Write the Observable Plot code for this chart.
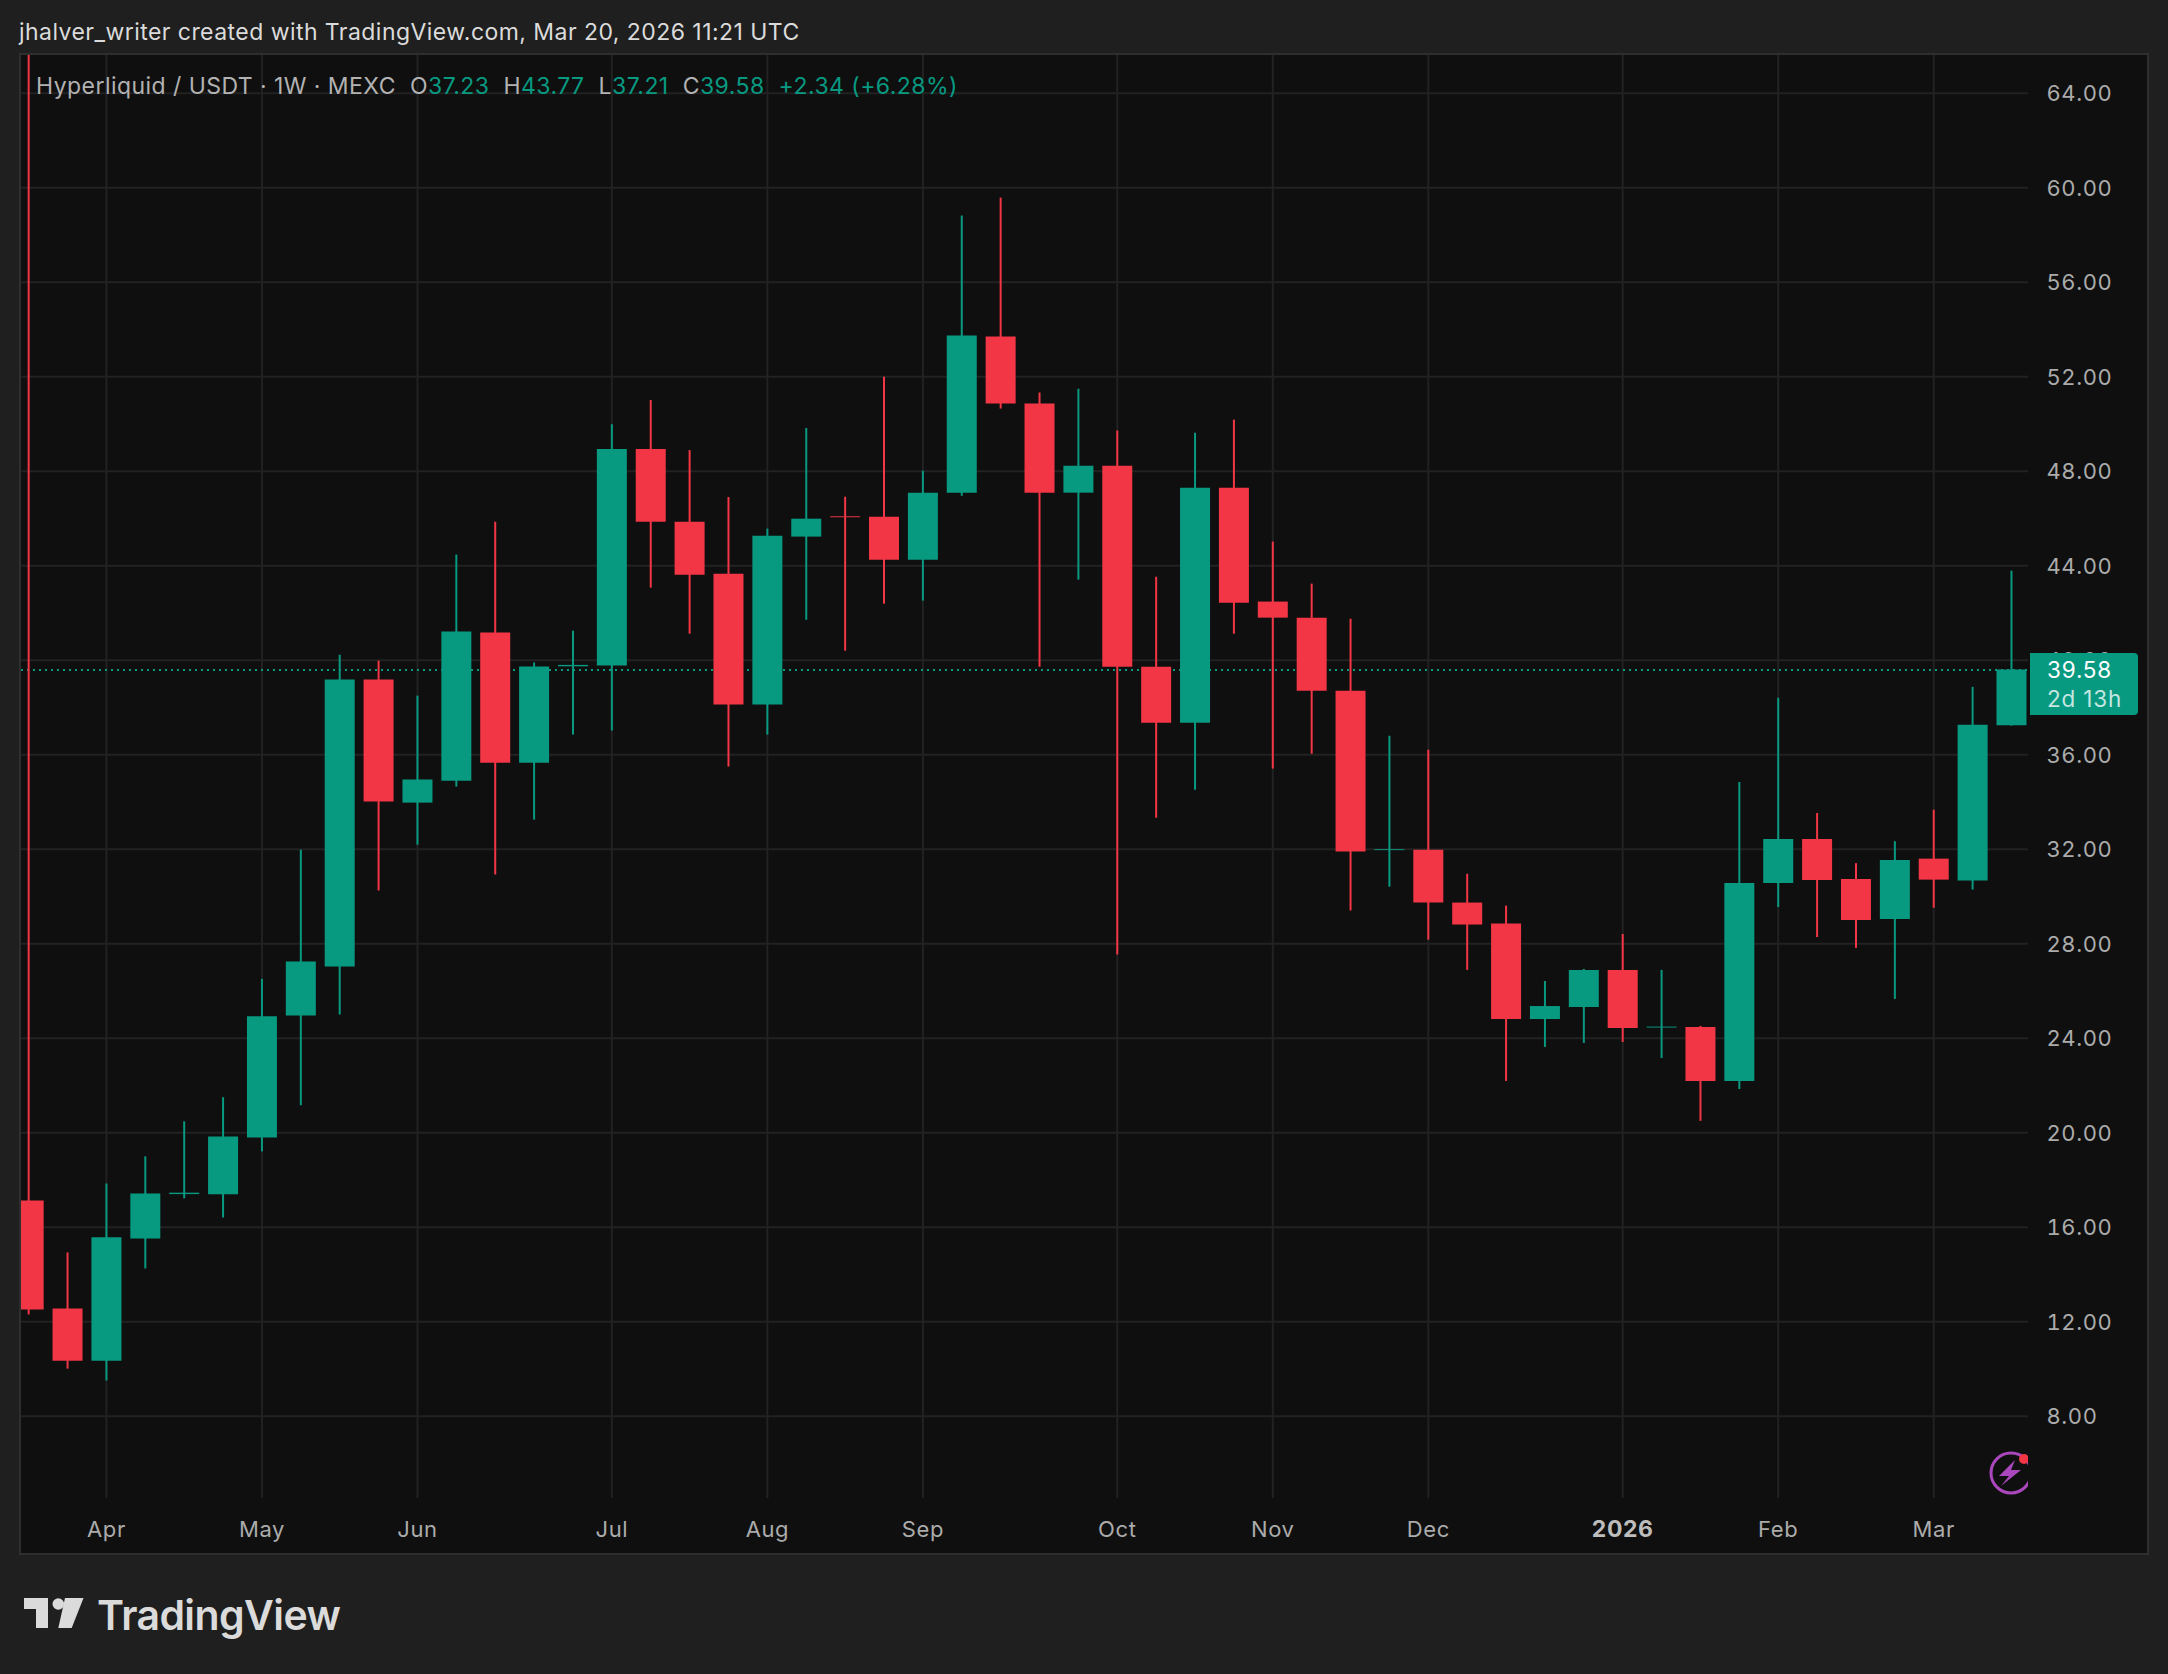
<!DOCTYPE html>
<html><head><meta charset="utf-8">
<script src="https://cdn.jsdelivr.net/npm/d3@7"></script>
<script src="https://cdn.jsdelivr.net/npm/@observablehq/plot@0.6"></script>
<style>
html,body{margin:0;padding:0;background:#1f1f1f;width:2168px;height:1674px;overflow:hidden;font-family:Inter,"Noto Sans",sans-serif;}
#title{position:absolute;left:19px;top:18px;font-size:23px;line-height:28px;letter-spacing:.45px;color:#dbdbdb;white-space:nowrap;}
#panel{position:absolute;left:19px;top:53px;width:2126px;height:1498px;background:#0f0f0f;border:2px solid #2e2e2e;}
#panel svg.plot{position:absolute;left:0;top:0;background:transparent;max-width:none;}
#legend{position:absolute;left:36px;top:72px;font-size:23px;line-height:28px;color:#b2b2b2;white-space:nowrap;letter-spacing:.45px;}
#legend b{font-weight:400;color:#089981;}
#legend span{margin-left:14px;}
#tag{position:absolute;left:2030px;width:108px;height:62px;background:#089981;border-radius:0 4px 4px 0;color:#fff;font-size:22.5px;line-height:29px;box-sizing:border-box;padding:2px 0 0 17px;letter-spacing:.8px;}
#tag div+div{color:#c4e6e0;}
#logo{position:absolute;left:24px;top:1595px;}
#logotext{position:absolute;left:97px;top:1591px;font-size:41px;line-height:48px;font-weight:600;color:#dbdbdb;letter-spacing:-.6px;white-space:nowrap;}
#bolt{position:absolute;left:1985px;top:1448px;}
</style></head><body>
<div id="title">jhalver_writer created with TradingView.com, Mar 20, 2026 11:21 UTC</div>
<div id="panel"></div>
<div id="legend">Hyperliquid / USDT · 1W · MEXC<span>O<b>37.23</b></span><span>H<b>43.77</b></span><span>L<b>37.21</b></span><span>C<b>39.58</b></span><span><b>+2.34 (+6.28%)</b></span></div>
<svg id="logo" width="62" height="34" viewBox="0 0 62 34"><path fill="#dbdbdb" d="M0 3H24V33H12V14H0Z"/><circle cx="34.3" cy="9" r="5.8" fill="#dbdbdb"/><path fill="#dbdbdb" d="M41 3H59.5L47.7 33H34.3Z"/></svg>
<div id="logotext">TradingView</div>
<svg id="bolt" width="43" height="50" viewBox="0 0 43 50"><circle cx="26" cy="25" r="20" fill="none" stroke="#ab47bc" stroke-width="3"/><path fill="#ab47bc" d="M30 12 L14 28 H24 L16 38 L36 22 H26 Z"/><circle cx="39" cy="11" r="5" fill="#f23645"/></svg>
<script>
const firstWeek = "2025-03-24";
const open = [17.11,12.54,10.33,15.50,17.38,17.37,19.78,24.94,27.01,39.16,33.95,34.88,41.15,35.64,39.72,39.75,48.92,45.84,43.64,38.10,45.21,46.07,46.05,44.23,47.07,53.68,50.84,47.07,48.21,39.70,37.33,47.28,42.46,41.78,38.69,31.94,31.96,29.72,28.83,24.79,25.30,26.87,24.43,24.45,22.17,30.55,32.41,30.72,29.02,31.58,30.65,37.23];
const close = [12.49,10.33,15.55,17.41,17.44,19.82,24.91,27.22,39.16,34.00,34.93,41.19,35.64,39.71,39.78,48.92,45.84,43.60,38.10,45.25,45.97,46.03,44.23,47.07,53.72,50.84,47.07,48.21,39.70,37.33,47.28,42.41,41.78,38.69,31.88,31.98,29.72,28.79,24.79,25.34,26.87,24.41,24.47,22.17,30.55,32.41,30.67,28.98,31.52,30.69,37.25,39.58];
const high = [70.00,14.91,17.83,18.98,20.46,21.48,26.49,31.96,40.21,39.96,38.48,44.45,45.84,39.88,41.23,49.97,50.99,48.87,46.89,45.55,49.81,46.90,51.98,48.00,58.80,59.56,51.31,51.47,49.70,43.51,49.61,50.16,45.00,43.22,41.73,36.78,36.19,30.94,29.59,26.40,26.91,28.39,26.87,24.50,34.82,38.39,33.51,31.39,32.32,33.65,38.85,43.77];
const low = [12.28,9.99,9.49,14.23,17.20,16.39,19.19,21.14,24.98,30.23,32.17,34.63,30.91,33.23,36.83,37.00,43.05,41.10,35.48,36.83,41.69,40.38,42.37,42.50,46.94,50.63,39.70,43.39,27.52,33.31,34.50,41.10,35.39,36.02,29.38,30.39,28.15,26.87,22.17,23.61,23.78,23.82,23.14,20.48,21.83,29.53,28.26,27.80,25.64,29.50,30.27,37.21];
const priceTicks = [8,12,16,20,24,28,32,36,40,44,48,52,56,60,64];
const monthTicks = ["2025-04-07","2025-05-05","2025-06-02","2025-07-07","2025-08-04","2025-09-01","2025-10-06","2025-11-03","2025-12-01","2026-01-05","2026-02-02","2026-03-02"];
const monthLabels = ["Apr","May","Jun","Jul","Aug","Sep","Oct","Nov","Dec","2026","Feb","Mar"];
const lastPrice = 39.58;
const countdown = "2d 13h";

const week = 7*864e5, t0 = Date.parse(firstWeek);
const candles = open.map((o,i)=>({date:new Date(t0+i*week),open:o,close:close[i],high:high[i],low:low[i],up:close[i]>=o}));
const months = monthTicks.map((d,i)=>({date:new Date(d+"T00:00Z"),label:monthLabels[i]}));
const GREEN="#089981", RED="#f23645", GRID="#222222", AXIS="#ababab";
const fill = d=>d.up?GREEN:RED;
const isYear = d=>d.label==="2026";

const chart = Plot.plot({
  width:2126,height:1498,
  marginLeft:0,marginRight:119,marginTop:0,marginBottom:55,
  style:{background:"transparent",fontFamily:"Inter,'Noto Sans',sans-serif"},
  x:{type:"utc",domain:[new Date("2025-03-22T17:00Z"),new Date("2026-03-19T01:30Z")],axis:null},
  y:{domain:[4.516,65.596],axis:null},
  marks:[
    Plot.ruleY(priceTicks,{stroke:GRID,strokeWidth:2}),
    Plot.ruleX(months,{x:"date",stroke:GRID,strokeWidth:2}),
    Plot.ruleY([lastPrice],{stroke:GREEN,strokeWidth:2,strokeDasharray:"2,4"}),
    Plot.ruleX(candles,{x:"date",y1:"low",y2:"high",stroke:fill,strokeWidth:2,clip:true}),
    Plot.ruleX(candles,{x:"date",y1:"open",y2:"close",stroke:fill,strokeWidth:30,clip:true}),
    Plot.axisY(priceTicks,{anchor:"right",tickSize:0,tickPadding:18,dy:1,color:AXIS,fill:AXIS,fontSize:22,
      tickFormat:d=>d.toFixed(2),label:null,textAnchor:"start",stroke:null}),
    Plot.text(months.filter(d=>!isYear(d)),{x:"date",text:"label",frameAnchor:"bottom",dy:31,fill:AXIS,fontSize:22,lineAnchor:"middle"}),
    Plot.text(months.filter(isYear),{x:"date",text:"label",frameAnchor:"bottom",dy:31,fill:"#bdbdbd",fontWeight:700,fontSize:23,lineAnchor:"middle"})
  ]
});
document.getElementById("panel").appendChild(chart);
chart.querySelectorAll("text").forEach(t=>t.setAttribute("letter-spacing","0.6"));
const tag=document.createElement("div");tag.id="tag";
tag.style.top=(55+chart.scale("y").apply(lastPrice)-16.6)+"px";
tag.innerHTML="<div>"+lastPrice.toFixed(2)+"</div><div>"+countdown+"</div>";
document.body.appendChild(tag);
</script>
</body></html>
